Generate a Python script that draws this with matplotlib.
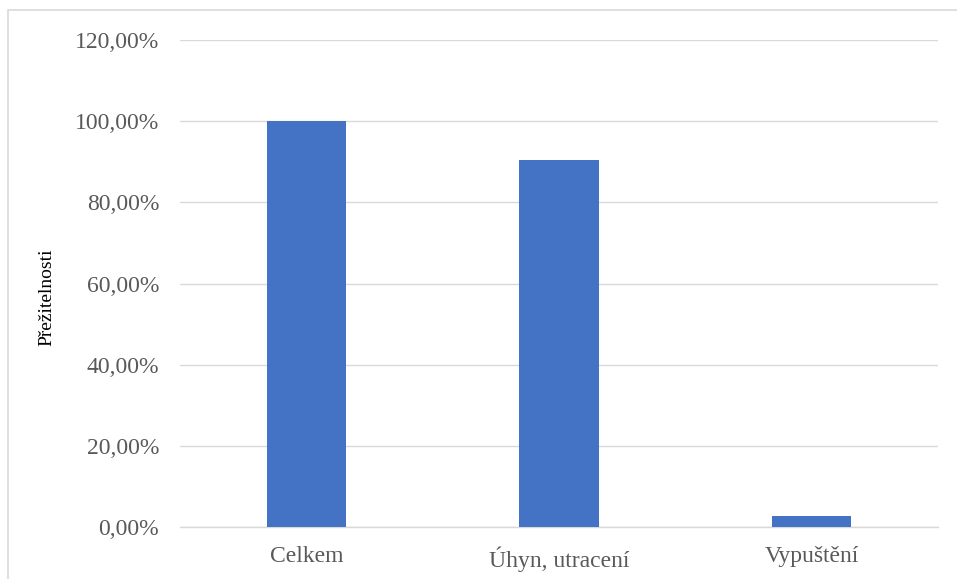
import matplotlib.pyplot as plt
from matplotlib.patches import Rectangle
from matplotlib.ticker import FuncFormatter

categories = ["Celkem", "Úhyn, utracení", "Vypuštění"]
values = [100.0, 90.4, 2.7]
y_ticks = [0, 20, 40, 60, 80, 100, 120]

plt.rcParams['font.family'] = 'serif'
plt.rcParams['font.serif'] = ['Liberation Serif', 'DejaVu Serif']

W, H = 957, 579
fig = plt.figure(figsize=(W / 100, H / 100), dpi=100)

# chart border (bottom and right run off the picture)
fig.patches.append(Rectangle((8 / W, -0.05), 1.2, (H - 10) / H + 0.05,
                             transform=fig.transFigure, fill=False,
                             edgecolor='#d9d9d9', linewidth=1.2))

ax = fig.add_axes([180 / W, (H - 527) / H, (938 - 180) / W, (527 - 40) / H])

x = range(len(categories))
ax.bar(x, values, width=0.315, color='#4472c4', zorder=3)

ax.set_xlim(-0.5, len(categories) - 0.5)
ax.set_ylim(0, 120)
ax.set_yticks(y_ticks)
ax.yaxis.set_major_formatter(FuncFormatter(lambda v, p: f"{v:.2f}%".replace('.', ',')))
ax.set_xticks(list(x))
ax.set_xticklabels(categories)

ax.grid(axis='y', color='#d9d9d9', linewidth=1, zorder=0)
for s in ['top', 'right', 'left']:
    ax.spines[s].set_visible(False)
ax.spines['bottom'].set_color('#d9d9d9')
ax.spines['bottom'].set_linewidth(1)
ax.tick_params(axis='both', length=0, colors='#595959', labelsize=17)
ax.tick_params(axis='y', pad=15)
ax.tick_params(axis='x', pad=14)

fig.text(47 / W, 1 - 297 / H, "Přežitelnosti", rotation=90, fontsize=14,
         ha='center', va='center', color='black')

fig.savefig("out.png", dpi=100)
